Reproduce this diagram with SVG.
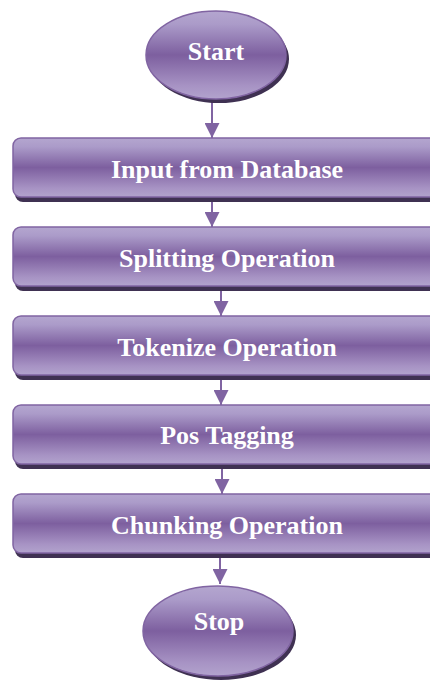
<svg xmlns="http://www.w3.org/2000/svg" width="430" height="684" viewBox="0 0 430 684">
<defs>
<linearGradient id="g" x1="0" y1="0" x2="0" y2="1">
<stop offset="0" stop-color="#b4a6cf"/>
<stop offset="0.15" stop-color="#ab9bc9"/>
<stop offset="0.5" stop-color="#7d5f9f"/>
<stop offset="0.85" stop-color="#a793c4"/>
<stop offset="1" stop-color="#b2a3cd"/>
</linearGradient>
<marker id="ah" viewBox="0 0 15 15" refX="15" refY="7.5" markerWidth="15" markerHeight="15" markerUnits="userSpaceOnUse" orient="auto">
<path d="M0,0 L15,7.5 L0,15 Z" fill="#8064a2"/>
</marker>
<style>
.box{fill:url(#g);stroke:#8064a2;stroke-width:1.5}
.sh{fill:#3f3152}
.t{font-family:"Liberation Serif","Times New Roman",serif;font-weight:bold;font-size:26px;fill:#ffffff;text-anchor:middle}
.c{stroke:#8064a2;stroke-width:2;fill:none;marker-end:url(#ah)}
</style>
</defs>
<g id="connectors">
<line class="c" x1="212" y1="100" x2="212" y2="138"/>
<line class="c" x1="212" y1="200" x2="212" y2="227"/>
<line class="c" x1="221" y1="290" x2="221" y2="316"/>
<line class="c" x1="221" y1="379" x2="221" y2="405"/>
<line class="c" x1="222" y1="468" x2="222" y2="494"/>
<line class="c" x1="220" y1="557" x2="220" y2="584"/>
</g>
<g id="start">
<ellipse class="sh" cx="219" cy="59" rx="70" ry="44"/>
<ellipse class="box" cx="216" cy="55" rx="70" ry="44"/>
<text class="t" x="216" y="60">Start</text>
</g>
<g id="input">
<rect class="sh" x="15" y="143" width="428" height="59" rx="8"/>
<rect class="box" x="13" y="138" width="428" height="59" rx="8"/>
<text class="t" x="227" y="178">Input from Database</text>
</g>
<g id="splitting">
<rect class="sh" x="15" y="232" width="428" height="59" rx="8"/>
<rect class="box" x="13" y="227" width="428" height="59" rx="8"/>
<text class="t" x="227" y="267">Splitting Operation</text>
</g>
<g id="tokenize">
<rect class="sh" x="15" y="321" width="428" height="59" rx="8"/>
<rect class="box" x="13" y="316" width="428" height="59" rx="8"/>
<text class="t" x="227" y="356">Tokenize Operation</text>
</g>
<g id="pos">
<rect class="sh" x="15" y="410" width="428" height="59" rx="8"/>
<rect class="box" x="13" y="405" width="428" height="59" rx="8"/>
<text class="t" x="227" y="444">Pos Tagging</text>
</g>
<g id="chunking">
<rect class="sh" x="15" y="499" width="428" height="59" rx="8"/>
<rect class="box" x="13" y="494" width="428" height="59" rx="8"/>
<text class="t" x="227" y="534">Chunking Operation</text>
</g>
<g id="stop">
<ellipse class="sh" cx="221" cy="635" rx="75" ry="45"/>
<ellipse class="box" cx="218" cy="631" rx="75" ry="45"/>
<text class="t" x="219" y="630">Stop</text>
</g>
</svg>
